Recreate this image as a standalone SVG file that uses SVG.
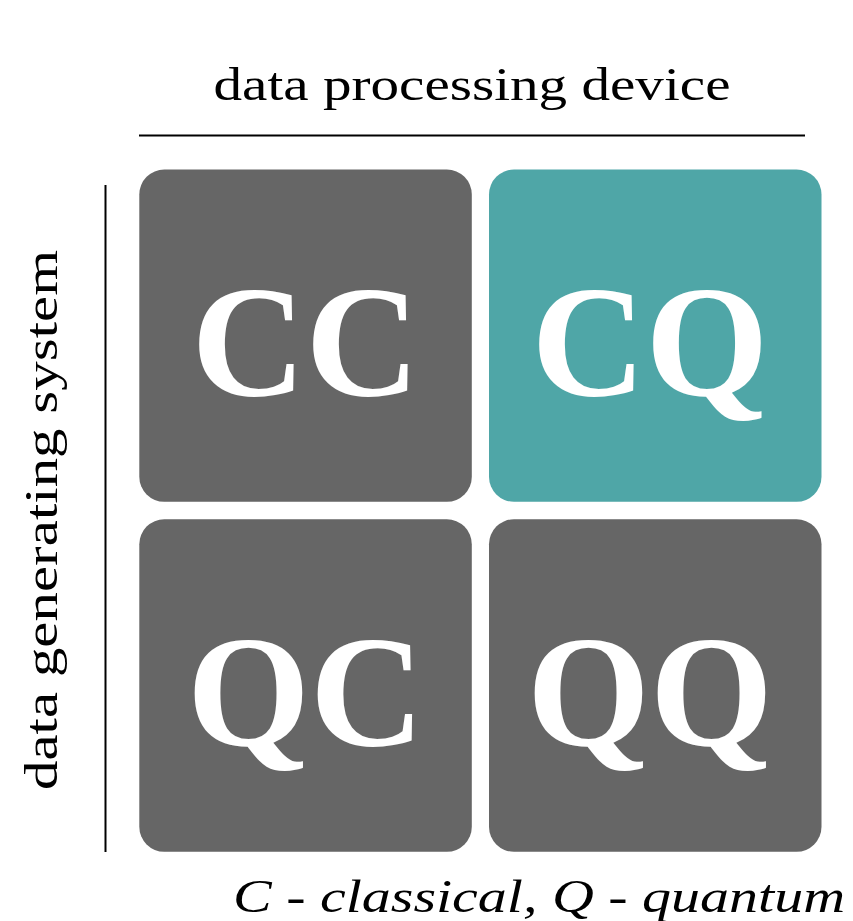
<svg xmlns="http://www.w3.org/2000/svg" width="853" height="921" viewBox="0 0 853 921">
  <style>
    .cell { fill: #666666; }
    .cell.hl { fill: #4FA6A7; }
    .big { font-family: "Liberation Serif", "DejaVu Serif", serif; font-weight: bold; font-size: 158px; fill: #ffffff; text-anchor: middle; }
    .axis { font-family: "Liberation Serif", "DejaVu Serif", serif; font-size: 46px; fill: #000000; text-anchor: middle; }
    .legend { font-family: "Liberation Serif", "DejaVu Serif", serif; font-style: italic; font-size: 46px; fill: #000000; }
    .rule { stroke: #000000; stroke-width: 2; fill: none; }
  </style>
  <rect width="853" height="921" fill="#ffffff"/>

  <!-- axis rules -->
  <g id="connectors">
    <line class="rule" x1="139" y1="135.5" x2="805" y2="135.5"/>
    <line class="rule" x1="105.5" y1="185" x2="105.5" y2="852"/>
  </g>

  <!-- axis captions -->
  <text class="axis" x="472" y="100" textLength="517" lengthAdjust="spacingAndGlyphs">data processing device</text>
  <text class="axis" transform="translate(57,520) rotate(-90)" x="0" y="0" textLength="540" lengthAdjust="spacingAndGlyphs">data generating system</text>

  <!-- quadrants -->
  <g id="cc">
    <rect class="cell" x="139.3" y="169.5" width="332.5" height="332.3" rx="25" ry="25"/>
    <text class="big" x="305.5" y="395">CC</text>
  </g>
  <g id="cq">
    <rect class="cell hl" x="489" y="169.5" width="332.5" height="332.3" rx="25" ry="25"/>
    <text class="big" x="650" y="395">CQ</text>
  </g>
  <g id="qc">
    <rect class="cell" x="139.3" y="519.3" width="332.5" height="332.5" rx="25" ry="25"/>
    <text class="big" x="305.5" y="745">QC</text>
  </g>
  <g id="qq">
    <rect class="cell" x="489" y="519.3" width="332.5" height="332.5" rx="25" ry="25"/>
    <text class="big" x="650" y="745">QQ</text>
  </g>

  <!-- legend -->
  <text class="legend" x="233" y="912" textLength="612" lengthAdjust="spacingAndGlyphs">C - classical, Q - quantum</text>
</svg>
